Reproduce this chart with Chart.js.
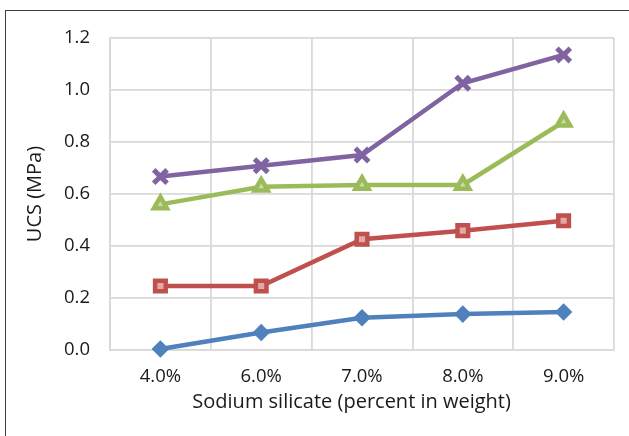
<!DOCTYPE html>
<html>
<head>
<meta charset="utf-8">
<script src="https://cdn.jsdelivr.net/npm/chart.js@4/dist/chart.umd.min.js"></script>
<style>
  html, body { margin: 0; padding: 0; background: #ffffff; overflow: hidden; }
  #wrap { position: relative; width: 629px; height: 436px; }
  #frame { position: absolute; left: 5px; top: 10px; width: 700px; height: 500px;
           border: 1.5px solid #3c3c3c; box-sizing: border-box; pointer-events: none; }
  canvas { position: absolute; left: 0; top: 0; }
</style>
</head>
<body>
<div id="wrap">
  <canvas id="chart" width="629" height="436"></canvas>
  <div id="frame"></div>
</div>
<script>
// Sodium silicate dosage (x axis categories)
const categories = ['4.0%', '6.0%', '7.0%', '8.0%', '9.0%'];

// UCS (MPa) for each series
const seriesA = [0.004, 0.067, 0.124, 0.138, 0.146];
const seriesB = [0.246, 0.246, 0.426, 0.459, 0.497];
const seriesC = [0.560, 0.628, 0.635, 0.635, 0.878];
const seriesD = [0.667, 0.709, 0.750, 1.026, 1.135];

// Y axis range and tick step
const yMin = 0;
const yMax = 1.2;
const yStep = 0.2;

const FONT = "'Open Sans', 'Noto Sans', sans-serif";
const gridColor = '#d9d9d9';
const textColor = '#1a1a1a';

function lineSet(label, data, color, style, radius, fill, pbw) {
  return {
    label: label,
    data: data,
    borderColor: color,
    backgroundColor: color,
    borderWidth: 4.5,
    pointStyle: style,
    pointRadius: radius,
    pointHoverRadius: radius,
    pointBackgroundColor: fill,
    pointBorderColor: color,
    pointBorderWidth: pbw,
    tension: 0,
    clip: false
  };
}

new Chart(document.getElementById('chart'), {
  type: 'line',
  data: {
    labels: categories,
    datasets: [
      lineSet('Series 4', seriesD, '#8064a2', 'crossRot', 9.5, '#8064a2', 5),
      lineSet('Series 3', seriesC, '#9bbb59', 'triangle', 7.5, '#c9dcae', 4.5),
      lineSet('Series 2', seriesB, '#c0504d', 'rect', 7.5, '#e3a9a7', 4.5),
      lineSet('Series 1', seriesA, '#4f81bd', 'rectRot', 7, '#4f81bd', 2.5)
    ]
  },
  options: {
    responsive: false,
    animation: false,
    events: [],
    layout: { padding: { left: 0, right: 15, top: 38, bottom: 0 } },
    plugins: {
      legend: { display: false },
      tooltip: { enabled: false }
    },
    scales: {
      x: {
        type: 'category',
        offset: true,
        grid: { display: true, offset: true, color: gridColor, lineWidth: 1.8, drawTicks: false },
        border: { display: true, color: gridColor, width: 1.8 },
        ticks: { color: textColor, font: { family: FONT, size: 18.5 }, padding: 16, maxRotation: 0 },
        title: {
          display: true,
          text: 'Sodium silicate (percent in weight)    ',
          color: textColor,
          font: { family: FONT, size: 20 },
          padding: { top: 0, bottom: 22 }
        },
        afterFit: (s) => { s.height = 86; }
      },
      y: {
        min: yMin,
        max: yMax,
        grid: { color: gridColor, lineWidth: 1.8, drawTicks: false },
        border: { display: true, color: gridColor, width: 1.8 },
        ticks: {
          stepSize: yStep,
          color: textColor,
          font: { family: FONT, size: 18.5 },
          padding: 20,
          callback: (v) => Number(v).toFixed(1)
        },
        title: {
          display: true,
          text: 'UCS (MPa)',
          color: textColor,
          font: { family: FONT, size: 20 },
          padding: { top: 23, bottom: 0 }
        },
        afterFit: (s) => { s.width = 110; }
      }
    }
  }
});
</script>
</body>
</html>
